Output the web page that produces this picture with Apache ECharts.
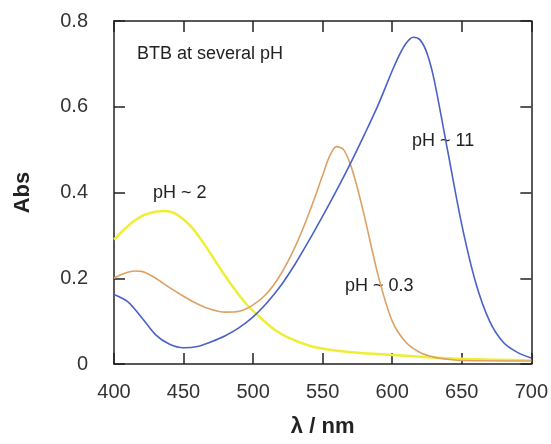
<!DOCTYPE html>
<html>
<head>
<meta charset="utf-8">
<script src="https://cdn.jsdelivr.net/npm/echarts@6/dist/echarts.min.js"></script>
<style>
  html, body { margin: 0; padding: 0; background: #fff; }
  #chart { width: 551px; height: 444px; }
</style>
</head>
<body>
<div id="chart"></div>
<script>
// BTB absorbance spectra
const wlBasic = [400, 410, 420, 430, 440, 450, 460, 470, 480, 490, 500, 510, 520, 530, 540, 550, 560, 570, 580, 590, 600, 605, 610, 615, 620, 625, 630, 640, 650, 660, 670, 680, 690, 700];
const absBasic = [0.162, 0.145, 0.108, 0.068, 0.046, 0.038, 0.041, 0.052, 0.066, 0.085, 0.11, 0.143, 0.183, 0.232, 0.287, 0.345, 0.405, 0.468, 0.535, 0.605, 0.684, 0.72, 0.748, 0.762, 0.756, 0.725, 0.665, 0.495, 0.325, 0.19, 0.1, 0.05, 0.027, 0.014];

const wlStrongAcid = [400, 405, 410, 415, 420, 430, 440, 450, 460, 470, 480, 490, 500, 510, 520, 530, 540, 550, 555, 560, 565, 570, 575, 580, 590, 600, 610, 620, 630, 640, 650, 700];
const absStrongAcid = [0.2, 0.208, 0.214, 0.217, 0.216, 0.2, 0.178, 0.158, 0.14, 0.127, 0.121, 0.123, 0.138, 0.165, 0.21, 0.272, 0.35, 0.44, 0.485, 0.507, 0.5, 0.465, 0.41, 0.345, 0.205, 0.1, 0.05, 0.027, 0.016, 0.011, 0.008, 0.007];

const wlAcid = [400, 410, 420, 430, 437, 445, 455, 465, 475, 485, 495, 505, 515, 525, 540, 555, 575, 600, 625, 650, 675, 700];
const absAcid = [0.29, 0.322, 0.345, 0.355, 0.357, 0.349, 0.322, 0.279, 0.229, 0.182, 0.14, 0.109, 0.081, 0.062, 0.043, 0.033, 0.026, 0.021, 0.016, 0.012, 0.01, 0.008];

const xTicks = [400, 450, 500, 550, 600, 650, 700];
const yTicks = [0, 0.2, 0.4, 0.6, 0.8];

const chart = echarts.init(document.getElementById('chart'));

function pairs(xs, ys) {
  return xs.map((x, i) => [x, ys[i]]);
}

const font = 'Liberation Sans, Arial, sans-serif';
const axisLine = { show: true, onZero: false, lineStyle: { color: '#222', width: 1.5 } };
const axisTick = { show: true, inside: true, length: 11, lineStyle: { color: '#222', width: 1.5 } };

const option = {
  animation: false,
  grid: { left: 114, right: 15, top: 21, bottom: 80 },
  xAxis: [
    {
      type: 'value', min: 400, max: 700, interval: 50,
      axisLine, axisTick, splitLine: { show: false },
      axisLabel: { color: '#333', fontSize: 20, fontFamily: font, margin: 18,
        formatter: v => xTicks.includes(v) ? String(v) : '' },
      name: 'λ / nm', nameLocation: 'middle', nameGap: 52,
      nameTextStyle: { color: '#222', fontSize: 22, fontWeight: 'bold', fontFamily: font }
    },
    {
      type: 'value', position: 'top', min: 400, max: 700, interval: 50,
      axisLine, axisTick, splitLine: { show: false }, axisLabel: { show: false }
    }
  ],
  yAxis: [
    {
      type: 'value', min: 0, max: 0.8, interval: 0.2,
      axisLine, axisTick, splitLine: { show: false },
      axisLabel: { color: '#333', fontSize: 20, fontFamily: font, margin: 26,
        formatter: v => { const t = yTicks.find(k => Math.abs(k - v) < 1e-9); return t === undefined ? '' : String(t); } },
      name: 'Abs', nameLocation: 'middle', nameGap: 80, nameRotate: 90,
      nameTextStyle: { color: '#222', fontSize: 22, fontWeight: 'bold', fontFamily: font }
    },
    {
      type: 'value', position: 'right', min: 0, max: 0.8, interval: 0.2,
      axisLine, axisTick, splitLine: { show: false }, axisLabel: { show: false }
    }
  ],
  graphic: [
    { type: 'text', left: 137, top: 45, style: { text: 'BTB at several pH', fontSize: 18, fontFamily: font, fill: '#222' } },
    { type: 'text', left: 412, top: 132, style: { text: 'pH ~ 11', fontSize: 18, fontFamily: font, fill: '#222' } },
    { type: 'text', left: 153, top: 184, style: { text: 'pH ~ 2', fontSize: 18, fontFamily: font, fill: '#222' } },
    { type: 'text', left: 345, top: 277, style: { text: 'pH ~ 0.3', fontSize: 18, fontFamily: font, fill: '#222' } }
  ],
  series: [
    {
      name: 'pH ~ 2', type: 'line', data: pairs(wlAcid, absAcid),
      smooth: 0.3, showSymbol: false, z: 2,
      lineStyle: { color: '#eeee38', width: 2.5 }
    },
    {
      name: 'pH ~ 0.3', type: 'line', data: pairs(wlStrongAcid, absStrongAcid),
      smooth: 0.3, showSymbol: false, z: 3,
      lineStyle: { color: '#dca264', width: 1.6 }
    },
    {
      name: 'pH ~ 11', type: 'line', data: pairs(wlBasic, absBasic),
      smooth: 0.3, showSymbol: false, z: 4,
      lineStyle: { color: '#4a62c8', width: 1.6 }
    }
  ]
};

chart.setOption(option);
</script>
</body>
</html>
